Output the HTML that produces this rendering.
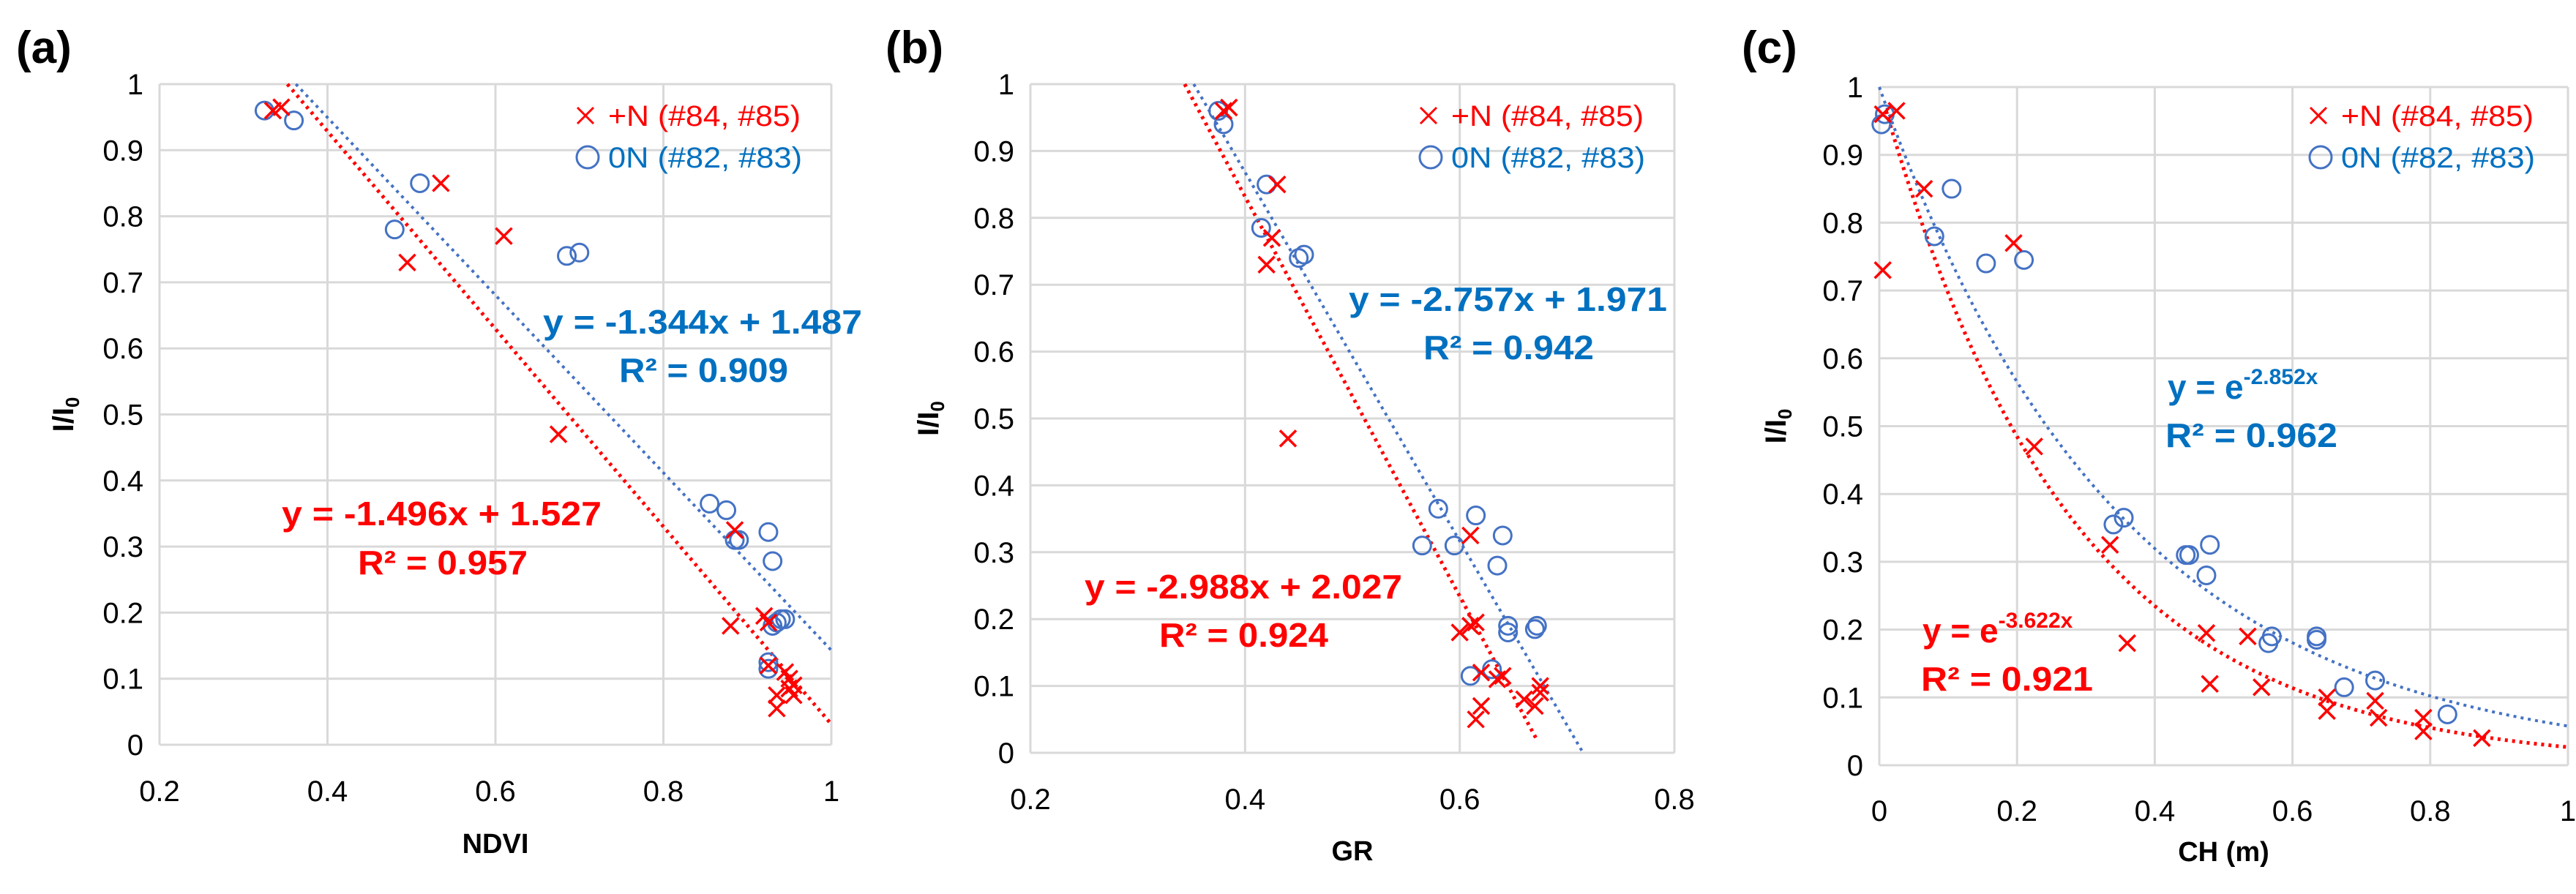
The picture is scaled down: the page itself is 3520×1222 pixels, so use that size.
<!DOCTYPE html>
<html><head><meta charset="utf-8"><style>
html,body{margin:0;padding:0;background:#fff;}
svg{display:block;font-family:"Liberation Sans",Arial,sans-serif;}
</style></head><body>
<svg id="fig" width="3520" height="1222" viewBox="0 0 3520 1222" xmlns="http://www.w3.org/2000/svg"></svg>
<script>
// Panel (a) NDVI
const aRedX=[0.335,0.345,0.495,0.535,0.61,0.675,0.885,0.88,0.92,0.925,0.925,0.945,0.95,0.95,0.935,0.935,0.955,0.955];
const aRedY=[0.96,0.965,0.73,0.85,0.77,0.47,0.325,0.18,0.195,0.185,0.12,0.11,0.1,0.085,0.075,0.055,0.075,0.09];
const aBlueX=[0.325,0.36,0.48,0.51,0.685,0.7,0.855,0.875,0.885,0.89,0.925,0.93,0.93,0.935,0.945,0.925,0.925,0.94];
const aBlueY=[0.96,0.945,0.78,0.85,0.74,0.745,0.365,0.355,0.31,0.31,0.322,0.278,0.18,0.185,0.19,0.125,0.115,0.19];
// Panel (b) GR
const bRedX=[0.38,0.385,0.43,0.42,0.425,0.44,0.61,0.6,0.61,0.615,0.62,0.64,0.635,0.62,0.615,0.66,0.67,0.675,0.675];
const bRedY=[0.96,0.965,0.85,0.73,0.77,0.47,0.325,0.18,0.19,0.195,0.12,0.115,0.11,0.07,0.05,0.08,0.07,0.1,0.09];
const bBlueX=[0.375,0.38,0.42,0.415,0.45,0.455,0.58,0.615,0.565,0.595,0.64,0.635,0.645,0.645,0.67,0.672,0.61,0.63];
const bBlueY=[0.96,0.94,0.85,0.785,0.74,0.745,0.365,0.355,0.31,0.31,0.325,0.28,0.18,0.19,0.185,0.19,0.115,0.125];
// Panel (c) CH
const cRedX=[0.005,0.025,0.005,0.065,0.195,0.225,0.335,0.36,0.475,0.48,0.535,0.555,0.65,0.65,0.72,0.725,0.79,0.79,0.875];
const cRedY=[0.96,0.965,0.73,0.85,0.77,0.47,0.325,0.18,0.195,0.12,0.19,0.115,0.1,0.08,0.095,0.07,0.07,0.05,0.04];
const cBlueX=[0.003,0.008,0.08,0.105,0.155,0.21,0.34,0.355,0.445,0.45,0.48,0.475,0.565,0.57,0.635,0.635,0.675,0.72,0.825];
const cBlueY=[0.945,0.96,0.78,0.85,0.74,0.745,0.355,0.365,0.31,0.31,0.325,0.28,0.18,0.19,0.19,0.185,0.115,0.125,0.075];
const yTicks=[0,0.1,0.2,0.3,0.4,0.5,0.6,0.7,0.8,0.9,1];
const aXTicks=[0.2,0.4,0.6,0.8,1];
const bXTicks=[0.2,0.4,0.6,0.8];
const cXTicks=[0,0.2,0.4,0.6,0.8,1];
const aBlueFit=[-1.344,1.487], aRedFit=[-1.496,1.527];
const bBlueFit=[-2.757,1.971], bRedFit=[-2.988,2.027];
const cBlueK=[-2.852], cRedK=[-3.622];

const NS="http://www.w3.org/2000/svg";
const svg=document.getElementById('fig');
const RED="#ff0000", BLUE="#4472c4", EQB="#0070c0";
function el(tag,attrs,parent){const e=document.createElementNS(NS,tag);for(const k in attrs)e.setAttribute(k,attrs[k]);(parent||svg).appendChild(e);return e;}
function txt(s,attrs,parent){const e=el('text',attrs,parent);e.textContent=s;return e;}

function panel(p){
  const g=el('g',{});
  
  
  const X=v=>p.L+(v-p.xmin)/(p.xmax-p.xmin)*(p.R-p.L);
  const Y=v=>p.B-v*(p.B-p.T);
  yTicks.forEach(t=>{
    const l=el('line',{x1:p.L,x2:p.R,y1:Y(t),y2:Y(t),stroke:'#d9d9d9','stroke-width':3},g);
    
    const tl=txt(String(t),{x:p.L-22,y:Y(t)+14,'text-anchor':'end','font-size':40,fill:'#000'},g);
    
  });
  p.xt.forEach(t=>{
    const l=el('line',{x1:X(t),x2:X(t),y1:p.T,y2:p.B,stroke:'#d9d9d9','stroke-width':3},g);
    
    const tl=txt(String(t),{x:X(t),y:p.xly,'text-anchor':'middle','font-size':40,fill:'#000'},g);
    
  });
  function trend(f,x0,x1,color,name){
    let d='';const n=200;
    for(let i=0;i<=n;i++){const x=x0+(x1-x0)*i/n;const y=f(x);d+=(i?'L':'M')+X(x).toFixed(1)+','+Y(y).toFixed(1);}
    const pa=el('path',{d:d,fill:'none',stroke:color,'stroke-width':name.includes('red')?5:4,'stroke-dasharray':'4 6','stroke-linecap':'butt'},g);
    
  }
  trend(p.blueF,p.bx0,p.bx1,BLUE,'blue-trendline');
  trend(p.redF,p.rx0,p.rx1,RED,'red-trendline');
  p.bx.forEach((x,i)=>{
    const c=el('circle',{cx:X(x),cy:Y(p.by[i]),r:12,fill:'none',stroke:BLUE,'stroke-width':3},g);
    
  });
  p.rx.forEach((x,i)=>{
    const cx=X(x),cy=Y(p.ry[i]),s=11;
    const pa=el('path',{d:`M${cx-s},${cy-s}L${cx+s},${cy+s}M${cx-s},${cy+s}L${cx+s},${cy-s}`,stroke:RED,'stroke-width':3.5,fill:'none'},g);
    
  });
  const lx=p.legX;
  const lm=el('path',{d:`M${lx-11},147L${lx+11},169M${lx-11},169L${lx+11},147`,stroke:RED,'stroke-width':3,fill:'none'},g);
  
  const lt=txt('+N (#84, #85)',{x:lx+31,y:172,'font-size':40,fill:RED,textLength:263,lengthAdjust:'spacingAndGlyphs'},g);
  
  const lc=el('circle',{cx:lx+3,cy:215,r:15,fill:'none',stroke:BLUE,'stroke-width':3},g);
  
  const lt2=txt('0N (#82, #83)',{x:lx+31,y:229,'font-size':40,fill:EQB,textLength:265,lengthAdjust:'spacingAndGlyphs'},g);
  
  const pl=txt(p.label,{x:p.labX,y:86,'font-size':62,'font-weight':'bold',fill:'#000'},g);
  
  const xt=txt(p.xtitle,{x:(p.L+p.R)/2,y:p.xty,'text-anchor':'middle','font-size':38,'font-weight':'bold',fill:'#000'},g);
  
  const yt=el('text',{transform:`translate(${p.ytx},${(p.T+p.B)/2}) rotate(-90)`,'text-anchor':'middle','font-size':40,'font-weight':'bold',fill:'#000'},g);
  yt.innerHTML='I/I<tspan font-size="26" dy="8">0</tspan>';
  
  p.eqs.forEach(e=>{
    const a={x:e.x,y:e.y,'font-size':e.fs||46,'font-weight':'bold',fill:e.c};
    if(e.w){a.textLength=e.w;a.lengthAdjust='spacingAndGlyphs';}
    const t=el('text',a,g);
    t.innerHTML=e.h;
    
  });
}

panel({id:'a',label:'(a)',labX:22,L:218,R:1136,T:115,B:1018,xmin:0.2,xmax:1,xt:aXTicks,xly:1095,xty:1166,ytx:100,xtitle:'NDVI',
  rx:aRedX,ry:aRedY,bx:aBlueX,by:aBlueY,legX:800,
  blueF:x=>aBlueFit[0]*x+aBlueFit[1],bx0:(aBlueFit[1]-1)/-aBlueFit[0],bx1:1,
  redF:x=>aRedFit[0]*x+aRedFit[1],rx0:(aRedFit[1]-1)/-aRedFit[0],rx1:1,
  eqs:[{x:742,y:456,c:EQB,h:'y = -1.344x + 1.487',n:'blue-equation',w:436},
       {x:846,y:522,c:EQB,h:'R² = 0.909',n:'blue-r-squared',w:231},
       {x:385,y:718,c:RED,h:'y = -1.496x + 1.527',n:'red-equation',w:437},
       {x:489,y:785,c:RED,h:'R² = 0.957',n:'red-r-squared',w:232}]});

panel({id:'b',label:'(b)',labX:1210,L:1408,R:2288,T:115,B:1029,xmin:0.2,xmax:0.8,xt:bXTicks,xly:1106,xty:1176,ytx:1282,xtitle:'GR',
  rx:bRedX,ry:bRedY,bx:bBlueX,by:bBlueY,legX:1952,
  blueF:x=>bBlueFit[0]*x+bBlueFit[1],bx0:(bBlueFit[1]-1)/-bBlueFit[0],bx1:bBlueFit[1]/-bBlueFit[0],
  redF:x=>bRedFit[0]*x+bRedFit[1],rx0:(bRedFit[1]-1)/-bRedFit[0],rx1:0.672,
  eqs:[{x:1843,y:425,c:EQB,h:'y = -2.757x + 1.971',n:'blue-equation',w:435},
       {x:1945,y:491,c:EQB,h:'R² = 0.942',n:'blue-r-squared',w:233},
       {x:1482,y:818,c:RED,h:'y = -2.988x + 2.027',n:'red-equation',w:434},
       {x:1584,y:884,c:RED,h:'R² = 0.924',n:'red-r-squared',w:231}]});

panel({id:'c',label:'(c)',labX:2380,L:2568,R:3509,T:119,B:1046,xmin:0,xmax:1,xt:cXTicks,xly:1122,xty:1177,ytx:2440,xtitle:'CH (m)',
  rx:cRedX,ry:cRedY,bx:cBlueX,by:cBlueY,legX:3168,
  blueF:x=>Math.exp(cBlueK[0]*x),bx0:0,bx1:1,
  redF:x=>Math.exp(cRedK[0]*x),rx0:0.01,rx1:1,
  eqs:[{x:2962,y:545,c:EQB,h:'y = e<tspan font-size="30" dy="-20">-2.852x</tspan>',n:'blue-equation'},
       {x:2959,y:611,c:EQB,h:'R² = 0.962',n:'blue-r-squared',w:235},
       {x:2627,y:878,c:RED,h:'y = e<tspan font-size="30" dy="-20">-3.622x</tspan>',n:'red-equation'},
       {x:2625,y:944,c:RED,h:'R² = 0.921',n:'red-r-squared',w:235}]});
</script>
</body></html>
